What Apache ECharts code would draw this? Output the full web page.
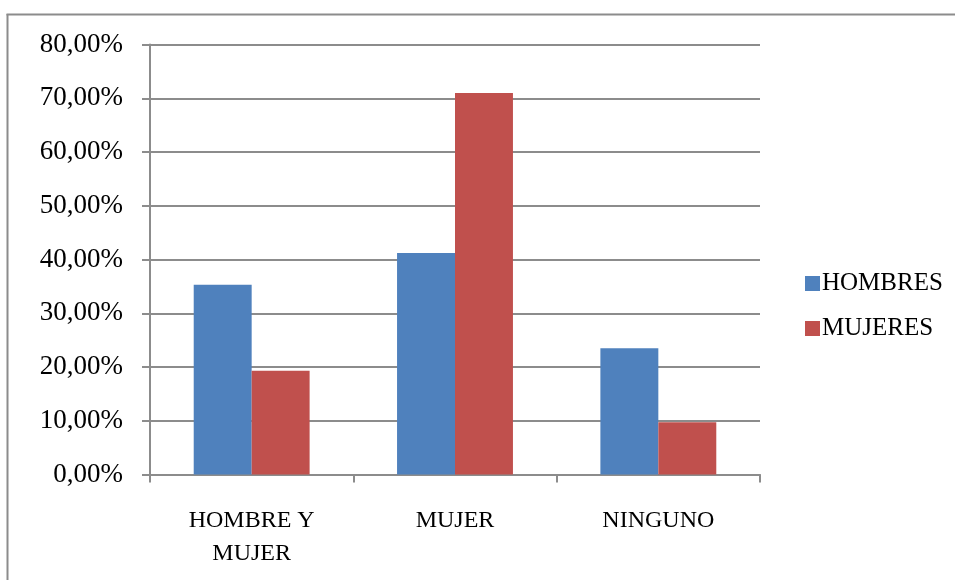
<!DOCTYPE html>
<html>
<head>
<meta charset="utf-8">
<script src="https://cdn.jsdelivr.net/npm/echarts@6/dist/echarts.min.js"></script>
<style>
  html, body { margin: 0; padding: 0; background: #fff; overflow: hidden; }
  #chart { width: 955px; height: 580px; }
</style>
</head>
<body>
<div id="chart"></div>
<script>
// Categories and percentages per group
const categories = ['HOMBRE Y\nMUJER', 'MUJER', 'NINGUNO'];
const hombres = [35.3, 41.2, 23.5];
const mujeres = [19.3, 71.0, 9.7];
const seriesNames = ['HOMBRES', 'MUJERES'];

const FONT = '"Liberation Serif", "DejaVu Serif", serif';
const GRID = '#8c8c8c';

const chart = echarts.init(document.getElementById('chart'));
chart.setOption({
  animation: false,
  backgroundColor: '#ffffff',
  // frame around the chart (top and left edges)
  graphic: [
    { type: 'line', shape: { x1: 6.5, y1: 14.5, x2: 980, y2: 14.5 },
      style: { stroke: GRID, lineWidth: 2 }, silent: true },
    { type: 'line', shape: { x1: 7.5, y1: 14, x2: 7.5, y2: 600 },
      style: { stroke: GRID, lineWidth: 2 }, silent: true }
  ],
  grid: { left: 150, top: 44.5, width: 610, height: 430 },
  legend: {
    orient: 'vertical',
    left: 800,
    top: 266,
    itemWidth: 15,
    itemHeight: 15,
    itemGap: 20,
    icon: 'rect',
    textStyle: { fontFamily: FONT, fontSize: 25, color: '#000', padding: [0, 0, 0, -3] },
    data: seriesNames
  },
  xAxis: {
    type: 'category',
    data: categories,
    axisLine: { lineStyle: { color: GRID, width: 2 } },
    axisTick: { show: true, length: 8, lineStyle: { color: GRID, width: 2 } },
    axisLabel: { fontFamily: FONT, fontSize: 24, color: '#000', margin: 30, lineHeight: 33 }
  },
  yAxis: {
    type: 'value',
    min: 0,
    max: 80,
    interval: 10,
    axisLine: { show: true, lineStyle: { color: GRID, width: 2 } },
    axisTick: { show: true, length: 8, lineStyle: { color: GRID, width: 2 } },
    splitLine: { lineStyle: { color: GRID, width: 2 } },
    axisLabel: {
      fontFamily: FONT, fontSize: 27, color: '#000', margin: 27,
      formatter: v => v.toFixed(2).replace('.', ',') + '%'
    }
  },
  series: [
    { name: seriesNames[0], type: 'bar', data: hombres, barWidth: '28.5%', barGap: '0%',
      itemStyle: { color: '#4f81bd' } },
    { name: seriesNames[1], type: 'bar', data: mujeres, barWidth: '28.5%', barGap: '0%',
      itemStyle: { color: '#c0504d' } }
  ]
});
</script>
</body>
</html>
